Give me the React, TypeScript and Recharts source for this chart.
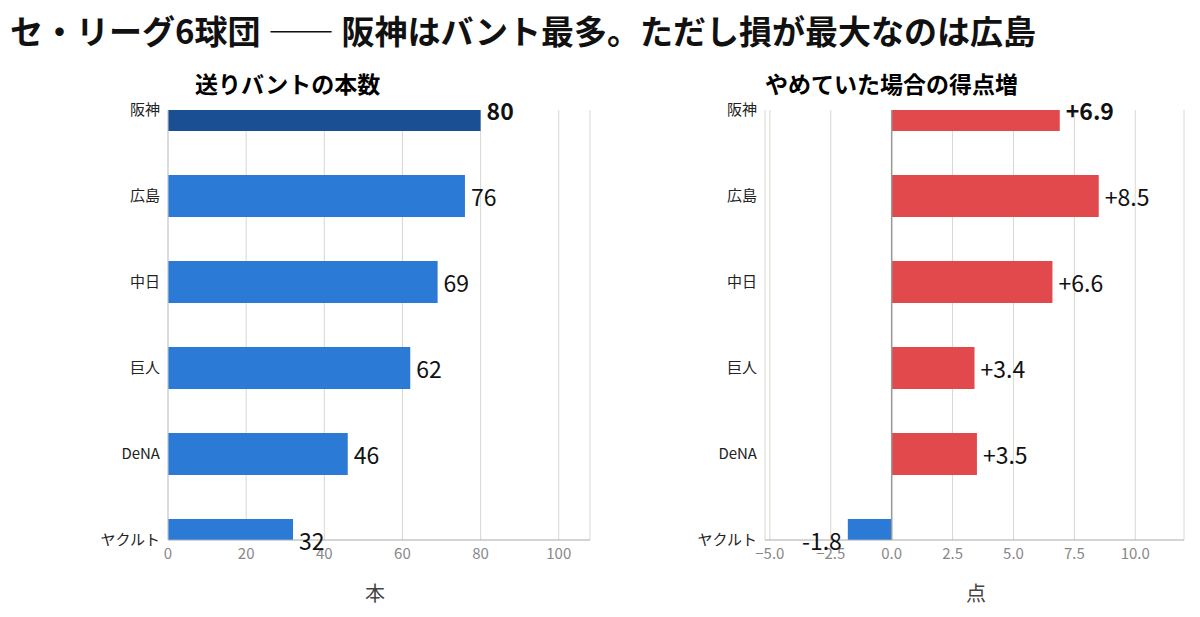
import React from 'react';
import { BarChart, Bar, XAxis, YAxis, CartesianGrid, ReferenceLine, LabelList, Cell } from 'recharts';

const teams = ['阪神', '広島', '中日', '巨人', 'DeNA', 'ヤクルト'];
const bunts = [80, 76, 69, 62, 46, 32];
const runGain = [6.9, 8.5, 6.6, 3.4, 3.5, -1.8];
const buntTicks = [0, 20, 40, 60, 80, 100];
const gainTicks = [-5, -2.5, 0, 2.5, 5, 7.5, 10];

const leftData = teams.map((team, i) => ({ team, value: bunts[i] }));
const rightData = teams.map((team, i) => ({ team, value: runGain[i] }));

const FONT = '"Noto Sans CJK JP", "Noto Sans", sans-serif';

const ValueLabel = (fmt: (v: number) => string) => (props: any) => {
  const { x, y, width, height, value, index } = props;
  const neg = value < 0;
  const end = x + width;
  return (
    <text
      x={neg ? end - 6 : end + 6}
      y={y + height / 2}
      dominantBaseline="central"
      textAnchor={neg ? 'end' : 'start'}
      fontSize={23}
      fontWeight={index === 0 ? 700 : 400}
      fill="#111"
      fontFamily={FONT}
    >
      {fmt(value)}
    </text>
  );
};

const tickStyle = { fill: '#888', fontSize: 15, fontFamily: FONT };
const catTick = { fill: '#222', fontSize: 15, fontFamily: FONT };

export default function App() {
  return (
    <div style={{ position: 'fixed', left: 0, top: 0, width: 1200, height: 617, background: '#fff', fontFamily: FONT }}>
      <div style={{ position: 'absolute', left: 10, top: 6, fontSize: 33, fontWeight: 700, color: '#111', whiteSpace: 'nowrap' }}>
        セ・リーグ6球団 ―― 阪神はバント最多。ただし損が最大なのは広島
      </div>
      <div style={{ position: 'absolute', left: 195, top: 66, fontSize: 23, fontWeight: 700 }}>送りバントの本数</div>
      <div style={{ position: 'absolute', left: 765, top: 66, fontSize: 23, fontWeight: 700 }}>やめていた場合の得点増</div>
      <div style={{ position: 'absolute', left: 365, top: 578, fontSize: 20, color: '#444' }}>本</div>
      <div style={{ position: 'absolute', left: 966, top: 578, fontSize: 20, color: '#444' }}>点</div>

      <div style={{ position: 'absolute', left: 0, top: 0 }}>
        <BarChart width={600} height={617} data={leftData} layout="vertical" margin={{ top: 110, right: 10, bottom: 47, left: 0 }}>
          <CartesianGrid horizontal={false} stroke="#d8d8d0" />
          <XAxis type="number" domain={[0, 108]} ticks={buntTicks} allowDataOverflow tick={tickStyle} tickLine={false} axisLine={{ stroke: '#aaa' }} />
          <YAxis type="category" dataKey="team" scale="point" allowDataOverflow width={168} tick={catTick} tickLine={false} axisLine={{ stroke: '#ccc' }} />
          <Bar dataKey="value" barSize={42} isAnimationActive={false}>
            {leftData.map((d, i) => (
              <Cell key={d.team} fill={i === 0 ? '#1b4f93' : '#2b7bd6'} />
            ))}
            <LabelList dataKey="value" content={ValueLabel((v) => String(v))} />
          </Bar>
        </BarChart>
      </div>

      <div style={{ position: 'absolute', left: 600, top: 0 }}>
        <BarChart width={600} height={617} data={rightData} layout="vertical" margin={{ top: 110, right: 16, bottom: 47, left: 0 }}>
          <CartesianGrid horizontal={false} stroke="#d8d8d0" />
          <XAxis type="number" domain={[-5.2, 12]} ticks={gainTicks} allowDataOverflow tick={tickStyle} tickLine={false} axisLine={{ stroke: '#aaa' }} tickFormatter={(v) => v.toFixed(1).replace('-', '−')} />
          <YAxis type="category" dataKey="team" scale="point" allowDataOverflow width={165} tick={catTick} tickLine={false} axisLine={false} />
          <ReferenceLine x={0} stroke="#999" strokeWidth={1.5} />
          <Bar dataKey="value" barSize={42} isAnimationActive={false}>
            {rightData.map((d) => (
              <Cell key={d.team} fill={d.value < 0 ? '#2b7bd6' : '#e2494c'} />
            ))}
            <LabelList dataKey="value" content={ValueLabel((v) => (v > 0 ? `+${v}` : String(v)))} />
          </Bar>
        </BarChart>
      </div>
    </div>
  );
}
